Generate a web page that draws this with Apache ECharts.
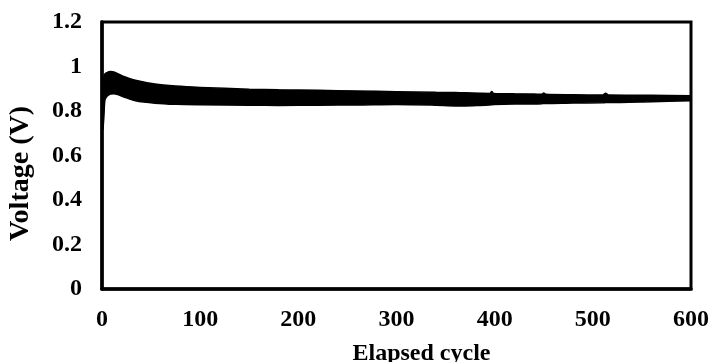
<!DOCTYPE html>
<html>
<head>
<meta charset="utf-8">
<script src="https://cdn.jsdelivr.net/npm/echarts@6/dist/echarts.min.js"></script>
<style>
  html, body { margin: 0; padding: 0; background: #fff; }
  #chart { width: 710px; height: 362px; }
</style>
</head>
<body>
<div id="chart"></div>
<script>
// Elapsed cycle at which the voltage envelope was sampled
const cycles = [1, 2, 3, 5, 7, 9, 12, 16, 23, 34, 54, 75, 100, 150, 180, 220, 260, 300,
  340, 360, 370, 385, 395, 397, 399, 420, 440, 448, 450, 452, 480, 510, 513, 516, 560, 600];
// Upper edge of the voltage oscillation band (V)
const upperV = [0.94, 0.955, 0.967, 0.972, 0.976, 0.977, 0.975, 0.968, 0.954, 0.938, 0.921, 0.912, 0.906, 0.898, 0.895, 0.893, 0.890, 0.887,
  0.884, 0.883, 0.882, 0.880, 0.879, 0.888, 0.879, 0.877, 0.876, 0.875, 0.881, 0.875, 0.873, 0.872, 0.880, 0.872, 0.871, 0.869];
// Lower edge of the voltage oscillation band (V)
const lowerV = [0.715, 0.78, 0.85, 0.866, 0.873, 0.876, 0.878, 0.874, 0.862, 0.846, 0.835, 0.830, 0.828, 0.826, 0.825, 0.826, 0.827, 0.829,
  0.826, 0.823, 0.823, 0.825, 0.827, 0.828, 0.829, 0.831, 0.832, 0.833, 0.834, 0.834, 0.836, 0.837, 0.838, 0.838, 0.842, 0.846];

const xTicks = [0, 100, 200, 300, 400, 500, 600];
const yTicks = [0, 0.2, 0.4, 0.6, 0.8, 1, 1.2];

const upperData = cycles.map((c, i) => [c, upperV[i]]);
const lowerData = cycles.map((c, i) => [c, lowerV[i]]);

const font = '"Liberation Serif", "Times New Roman", serif';
const chart = echarts.init(document.getElementById('chart'));
chart.setOption({
  animation: false,
  backgroundColor: '#fff',
  grid: {
    left: 102, right: 19, top: 22, bottom: 73, outerBoundsMode: 'none',
    show: true, borderColor: '#000', borderWidth: 3, z: 20
  },
  xAxis: {
    type: 'value', min: xTicks[0], max: xTicks[xTicks.length - 1], interval: 100, z: 20,
    name: 'Elapsed cycle', nameLocation: 'middle', nameGap: 53,
    nameTextStyle: { fontFamily: font, fontWeight: 'bold', fontSize: 24, color: '#000', padding: [0, 0, 0, 50] },
    axisLine: { show: true, lineStyle: { color: '#000', width: 3.5 } },
    axisTick: { show: false },
    splitLine: { show: false },
    axisLabel: { fontFamily: font, fontWeight: 'bold', fontSize: 24, color: '#000', margin: 19 }
  },
  yAxis: {
    type: 'value', min: yTicks[0], max: yTicks[yTicks.length - 1], interval: 0.2, z: 20,
    name: 'Voltage (V)', nameLocation: 'middle', nameGap: 67, nameRotate: 90,
    nameTextStyle: { fontFamily: font, fontWeight: 'bold', fontSize: 28, color: '#000', padding: [0, 36, 0, 0] },
    axisLine: { show: true, lineStyle: { color: '#000', width: 3.5 } },
    axisTick: { show: false },
    splitLine: { show: false },
    axisLabel: {
      fontFamily: font, fontWeight: 'bold', fontSize: 24, color: '#000', margin: 20,
      formatter: v => String(+v.toFixed(1))
    }
  },
  series: [
    {
      // upper envelope, filled down to the axis
      type: 'line', data: upperData, showSymbol: false, smooth: 0.3,
      lineStyle: { color: '#000', width: 1.5 },
      areaStyle: { color: '#000', opacity: 1, origin: 'start' }
    },
    {
      // lower envelope, clearing the area beneath the band
      type: 'line', data: lowerData, showSymbol: false, smooth: 0.3,
      lineStyle: { color: '#000', width: 1.5 },
      areaStyle: { color: '#fff', opacity: 1, origin: 'start' }
    }
  ]
});
</script>
</body>
</html>
